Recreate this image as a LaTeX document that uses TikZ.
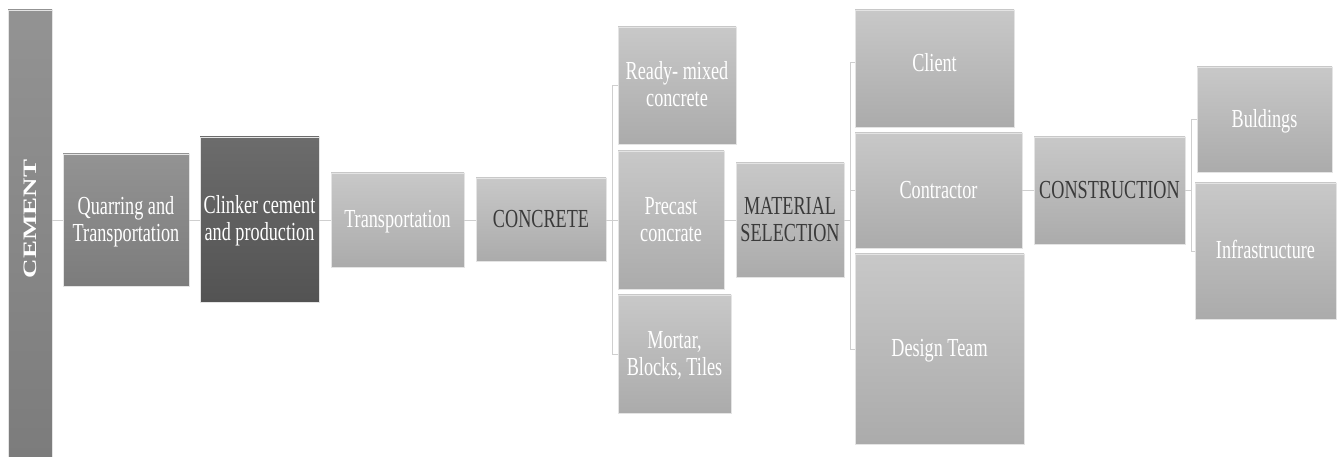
\documentclass[tikz,border=0pt]{standalone}
\usepackage{fontspec}
\setmainfont{Liberation Serif}
\definecolor{linec}{HTML}{CFCFCF}
\definecolor{boxline}{HTML}{E4E4E4}
\definecolor{darktext}{HTML}{3A3A3A}
\definecolor{lighttop}{HTML}{C8C8C8}
\definecolor{lightbot}{HTML}{ABABAB}
\definecolor{midtop}{HTML}{939393}
\definecolor{midbot}{HTML}{7C7C7C}
\definecolor{darktop}{HTML}{6C6C6C}
\definecolor{darkbot}{HTML}{535353}
\newcommand\sqz[1]{\raisebox{-2.5pt}[\height][\depth]{\scalebox{0.70}[1]{\begin{tabular}{@{}c@{}}#1\end{tabular}}}}
\begin{document}
\begin{tikzpicture}[x=1pt,y=-1pt,
  box/.style={draw=boxline, line width=0.8pt, inner sep=0pt,
    align=center, text=white, font=\fontsize{26}{27}\selectfont},
  lightbox/.style={box, top color=lighttop, bottom color=lightbot},
  midbox/.style={box, top color=midtop, bottom color=midbot},
  darkbox/.style={box, top color=darktop, bottom color=darkbot},
  dtext/.style={text=darktext},
  conn/.style={draw=linec, line width=0.9pt},
  sz/.style n args={2}{minimum width=#1, minimum height=#2}]
\useasboundingbox (0,0) rectangle (1342,457);
\fill[white] (0,0) rectangle (1342,457);

\node[midbox, sz={44}{447}] (cement) at (30,233.5) {};
\node[text=white, rotate=90, font=\fontsize{19}{24}\selectfont\bfseries] (cementlabel) at (30,219) {\scalebox{1.42}[1]{CEMENT}};

\node[midbox, sz={126}{132}] (quar) at (126,220) {\sqz{Quarring and\\Transportation}};
\node[darkbox, sz={119}{165}] (clink) at (259.5,219.5) {\sqz{Clinker cement\\and production}};
\node[lightbox, sz={133}{94}] (trans) at (397.5,220) {\sqz{Transportation}};
\node[lightbox, dtext, sz={130}{83}] (concrete) at (541,219.5) {\sqz{CONCRETE}};

\node[lightbox, sz={118}{117}] (ready) at (677,85.5) {\sqz{Ready- mixed\\concrete}};
\node[lightbox, sz={106}{138}] (precast) at (671,220) {\sqz{Precast\\concrate}};
\node[lightbox, sz={113}{118}] (mortar) at (674.5,354) {\sqz{Mortar,\\Blocks, Tiles}};

\node[lightbox, dtext, sz={108}{114}] (material) at (790,220) {\sqz{MATERIAL\\SELECTION}};

\node[lightbox, sz={159}{117}, text depth=18pt] (client) at (934.5,68.5) {\sqz{Client}};
\node[lightbox, sz={167}{115}] (contractor) at (938.5,190.5) {\sqz{Contractor}};
\node[lightbox, sz={169}{190}] (design) at (939.5,349) {\sqz{Design Team}};

\node[lightbox, dtext, sz={151}{107}] (construction) at (1109.5,190.5) {\sqz{CONSTRUCTION}};

\node[lightbox, sz={135}{105}] (buildings) at (1264.5,119.5) {\sqz{Buldings}};
\node[lightbox, sz={141}{136}] (infra) at (1265.5,251) {\sqz{Infrastructure}};

\coordinate (cb) at (612,220);
\coordinate (mb) at (850,220);
\coordinate (kb) at (1191,190.5);
\coordinate (clientb) at ([yshift=6.5pt]client.west);

\draw[conn] (cement.east |- quar.west) -- (quar.west);
\draw[conn] (quar.east) -- (quar.east -| clink.west);
\draw[conn] (clink.east |- trans.west) -- (trans.west);
\draw[conn] (trans.east) -- (trans.east -| concrete.west);
\draw[conn] (concrete.east |- precast.west) -- (precast.west);
\draw[conn] (ready.west) -- (cb |- ready.west) -- (cb |- mortar.west) -- (mortar.west);
\draw[conn] (precast.east) -- (precast.east -| material.west);
\draw[conn] (material.east) -- (mb);
\draw[conn] (clientb) -- (mb |- clientb) -- (mb |- design.west) -- (design.west);
\draw[conn] (mb |- contractor.west) -- (contractor.west);
\draw[conn] (contractor.east) -- (contractor.east -| construction.west);
\draw[conn] (construction.east) -- (kb);
\draw[conn] (buildings.west) -- (kb |- buildings.west) -- (kb |- infra.west) -- (infra.west);
\end{tikzpicture}
\end{document}
